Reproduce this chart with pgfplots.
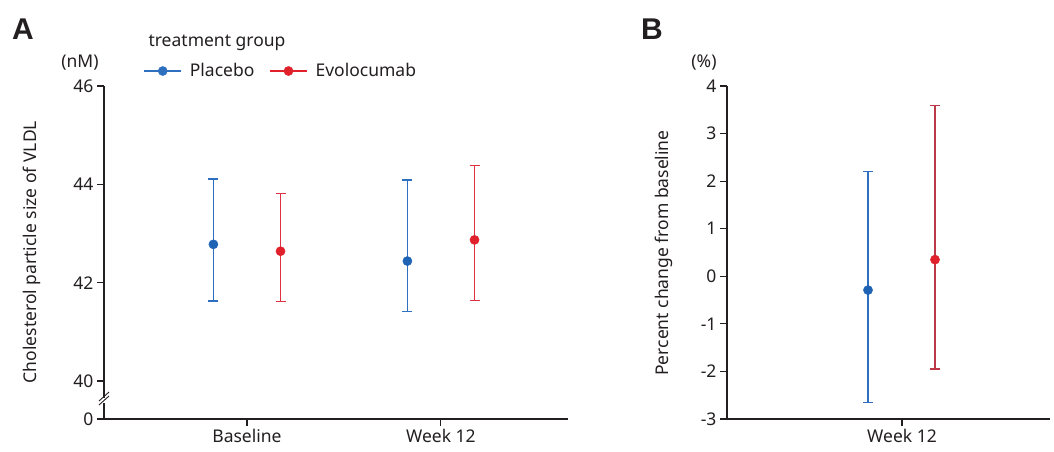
\documentclass[border=0pt]{standalone}
\usepackage{pgfplots}
\pgfplotsset{compat=1.18}
\usepackage{pgfplotstable}
\usepackage{fontspec}
\setmainfont{Noto Sans}
\newfontfamily\panelfont{Liberation Sans}
\definecolor{pblue}{HTML}{1F63B4}
\definecolor{pbluel}{HTML}{2E6FC0}
\definecolor{pred}{HTML}{E0202B}
\definecolor{predbar}{HTML}{DE3242}
\definecolor{predbarB}{HTML}{BC3A48}
\definecolor{axc}{HTML}{231F20}
\newcommand\fs{\fontsize{17.5}{21}\selectfont}

% Panel A (x: 1 = Baseline, 2 = Week 12)
\pgfplotstableread{
x y ep em
1 42.78 1.33 1.15
2 42.44 1.65 1.03
}\pAblue
\pgfplotstableread{
x y ep em
1 42.64 1.17 1.02
2 42.87 1.51 1.23
}\pAred
% Panel B (x: 0 = Week 12)
\pgfplotstableread{
x y ep em
0 -0.29 2.50 2.37
}\pBblue
\pgfplotstableread{
x y ep em
0 0.35 3.24 2.30
}\pBred

\pgfplotsset{
  mystyle/.style={
    scale only axis, clip=false,
    axis x line=bottom, axis y line=left,
    axis line style={-, axc, line width=1.1pt},
    tick style={axc, line width=1.1pt},
    tick align=outside, major tick length=7pt,
    tick label style={font=\fs, text=axc},
    /pgf/number format/assume math mode=true,
  },
  ebar/.style 2 args={only marks, mark=*, mark size=4.6pt, color=#1,
    mark options={fill=#2, draw=#2},
    error bars/.cd, y dir=both, y explicit,
    error bar style={line width=1.3pt, #1},
    error mark options={rotate=90, mark size=5pt, line width=1.3pt, #1}},
}

\begin{document}
\begin{tikzpicture}
\path[use as bounding box] (0,0) rectangle (1054pt,451pt);

% ---------------- Panel A ----------------
\begin{axis}[mystyle,
  at={(104pt,32pt)}, anchor=south west,
  width=464pt, height=333pt,
  xmin=0.263, xmax=2.655, ymin=39.228, ymax=46,
  xtick={1,2}, xticklabels={Baseline,Week 12},
  ytick={39.228,40,42,44,46}, yticklabels={0,40,42,44,46},
  legend style={draw=none, fill=none, inner sep=0pt, legend columns=2,
    at={(axis description cs:0.085,1.045)}, anchor=west,
    font=\fs, text=axc,
    /tikz/every odd column/.append style={column sep=6pt},
    /tikz/every even column/.append style={column sep=13pt}},
  legend image code/.code={
    \draw[#1, line width=1.2pt] (0pt,0pt) -- (37pt,0pt);
    \fill[#1] (18.5pt,0pt) circle (4.6pt);},
]
\addlegendimage{pbluel}
\addlegendentry{Placebo}
\addlegendimage{pred}
\addlegendentry{Evolocumab}
\addplot[forget plot, ebar={pbluel}{pblue}]
  table[x expr=\thisrow{x}-0.173, y=y, y error plus=ep, y error minus=em] {\pAblue};
\addplot[forget plot, ebar={predbar}{pred}]
  table[x expr=\thisrow{x}+0.173, y=y, y error plus=ep, y error minus=em] {\pAred};
\end{axis}

% axis break marks
\fill[white] (100.5pt,48pt) rectangle (107.5pt,53pt);
\draw[axc, line width=0.9pt] (99pt,46pt) -- (109pt,55pt);
\draw[axc, line width=0.9pt] (99pt,50pt) -- (109pt,59pt);

% ---------------- Panel B ----------------
\begin{axis}[mystyle,
  at={(727pt,32pt)}, anchor=south west,
  width=323pt, height=333pt,
  xmin=-175, xmax=148, ymin=-3, ymax=4,
  xtick={0}, xticklabels={Week 12},
  ytick={-3,-2,...,4},
]
\addplot[ebar={pbluel}{pblue}]
  table[x expr=\thisrow{x}-34, y=y, y error plus=ep, y error minus=em] {\pBblue};
\addplot[ebar={predbarB}{pred}]
  table[x expr=\thisrow{x}+33, y=y, y error plus=ep, y error minus=em] {\pBred};
\end{axis}

% ---------------- Texts ----------------
\node[font=\fontsize{30}{32}\selectfont\panelfont\bfseries, text=axc, inner sep=0pt] at (23pt,422pt) {A};
\node[font=\fontsize{30}{32}\selectfont\panelfont\bfseries, text=axc, inner sep=0pt] at (652pt,422pt) {B};
\node[font=\fs, text=axc, anchor=west] at (145pt,408pt) {treatment group};
\node[font=\fs, text=axc] at (80pt,388pt) {(nM)};
\node[font=\fs, text=axc] at (704pt,388pt) {(\%)};
\node[font=\fs, text=axc, rotate=90, anchor=base] at (36pt,199pt) {Cholesterol particle size of VLDL};
\node[font=\fs, text=axc, rotate=90, anchor=base] at (668pt,198pt) {Percent change from baseline};
\end{tikzpicture}
\end{document}
